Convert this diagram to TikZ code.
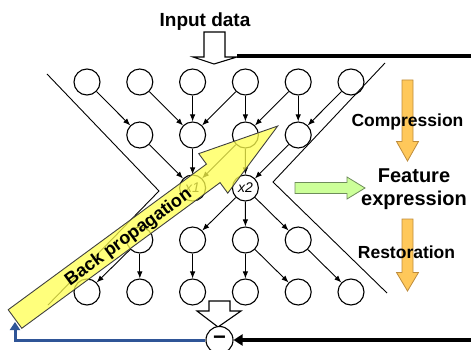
\documentclass[tikz,border=0pt]{standalone}
\usepackage{fontspec}
\setmainfont{Liberation Sans}
\usetikzlibrary{arrows.meta}
\definecolor{bpyellow}{RGB}{255,255,80}
\definecolor{feedblue}{RGB}{47,85,151}
\definecolor{steporange}{RGB}{255,200,90}
\definecolor{stepedge}{RGB}{190,140,60}
\definecolor{featgreen}{RGB}{204,255,153}
\definecolor{featedge}{RGB}{110,140,90}

\begin{document}
\begin{tikzpicture}[
      x=1pt, y=-1pt,
      >={Latex[length=7pt,width=5.5pt]},
      line width=1.1pt,
      unit/.style ={circle, draw, fill=white, minimum size=26pt, inner sep=0pt,
                    font=\fontsize{14}{16}\selectfont\itshape},
      link/.style ={->, line width=0.9pt},
      title/.style={font=\fontsize{19}{22}\selectfont\bfseries, inner sep=0pt, anchor=base},
      phase/.style={font=\fontsize{17.5}{20}\selectfont\bfseries, inner sep=0pt, anchor=base},
      flow/.style ={draw=stepedge, fill=steporange, line width=0.8pt}
    ]
    \useasboundingbox (0,0) rectangle (471,350);

    % layers of the network
    \foreach \i in {1,...,6} {
      \node[unit] (a\i) at ({87+52.8*(\i-1)},82) {};
      \node[unit] (e\i) at ({87+52.8*(\i-1)},292) {};
    }
    \foreach \i in {2,...,5} {
      \node[unit] (b\i) at ({87+52.8*(\i-1)},135) {};
      \node[unit] (d\i) at ({87+52.8*(\i-1)},240) {};
    }
    \node[unit] (c3) at (192.6,188) {x1};
    \node[unit] (c4) at (245.4,188) {x2};

    \foreach \s/\t in {a1/b2, a2/b3, a3/b3, a4/b3, a4/b4, a5/b4, a5/b5, a6/b5,
                       b2/c3, b3/c3, b4/c3, b4/c4, b5/c4,
                       c4/d3, c4/d4, c4/d5,
                       d2/e1, d2/e2, d3/e3, d4/e4, d4/e5, d5/e6}
      \draw[link] (\s) -- (\t);

    % hourglass outline
    \draw[line width=0.9pt] (47,74) -- (159,191) -- (48,305);
    \draw[line width=0.9pt] (385,63) -- (273,182) -- (387,293);

    % input
    \node[title] (input) at (205,27) {Input data};
    \coordinate (in_tip) at (214,64);
    \draw[fill=white] (204,32) -- (225,32) -- (225,57) -- (237,57) -- (in_tip)
          -- (193,57) -- (204,57) -- cycle;
    \coordinate (in_r) at (237,56);
    \coordinate (top_end) at (471,56);
    \draw[line width=3.3pt] (in_r) -- (top_end);

    % output and difference
    \draw[fill=white] (209,301) -- (230,301) -- (230,311) -- (241,311) -- (218,327)
          -- (197,311) -- (209,311) -- cycle;
    \node[circle, draw, fill=white, minimum size=27pt, inner sep=0pt,
          font=\fontsize{22}{22}\selectfont\bfseries] (diff) at (219.5,340) {−};
    \coordinate (target_in) at (471,340);
    \draw[line width=3.3pt, -{Triangle[length=9pt,width=11pt]}] (target_in) -- (diff.east);
    \coordinate (bp_end) at (15,322);
    \draw[feedblue, line width=3pt, -{Triangle[length=8pt,width=10pt]}]
          (diff.west) -| (bp_end);

    % back propagation arrow
    \begin{scope}[shift={(15,319)}, rotate=36.3]
      \draw[draw=black!75, fill=bpyellow, fill opacity=0.75, line width=0.9pt]
        (0,-11.5) -- (246,-11.5) -- (246,-24.5) -- (326,0) -- (246,24.5)
        -- (246,11.5) -- (0,11.5) -- cycle;
      \node[rotate=36.3, font=\fontsize{18}{20}\selectfont\bfseries] (bp) at (140,1.5)
           {Back propagation};
    \end{scope}

    % phases
    \draw[flow] (402,80) -- (413,80) -- (413,141.5) -- (418.5,141.5) -- (407.5,161)
          -- (396.5,141.5) -- (402,141.5) -- cycle;
    \node[phase] (compress) at (407.5,127) {Compression};
    \draw[flow] (402,219) -- (413,219) -- (413,272.5) -- (418.5,272.5) -- (407.5,291)
          -- (396.5,272.5) -- (402,272.5) -- cycle;
    \node[phase] (restore) at (406.5,258.5) {Restoration};
    \draw[draw=featedge, fill=featgreen, line width=0.8pt] (295,182.5) -- (347,182.5)
          -- (347,177) -- (365,188) -- (347,199) -- (347,193.5) -- (295,193.5) -- cycle;
    \node[align=center, font=\fontsize{20}{23}\selectfont\bfseries, inner sep=0pt]
         (feature) at (414,189) {Feature\\expression};
\end{tikzpicture}
\end{document}
